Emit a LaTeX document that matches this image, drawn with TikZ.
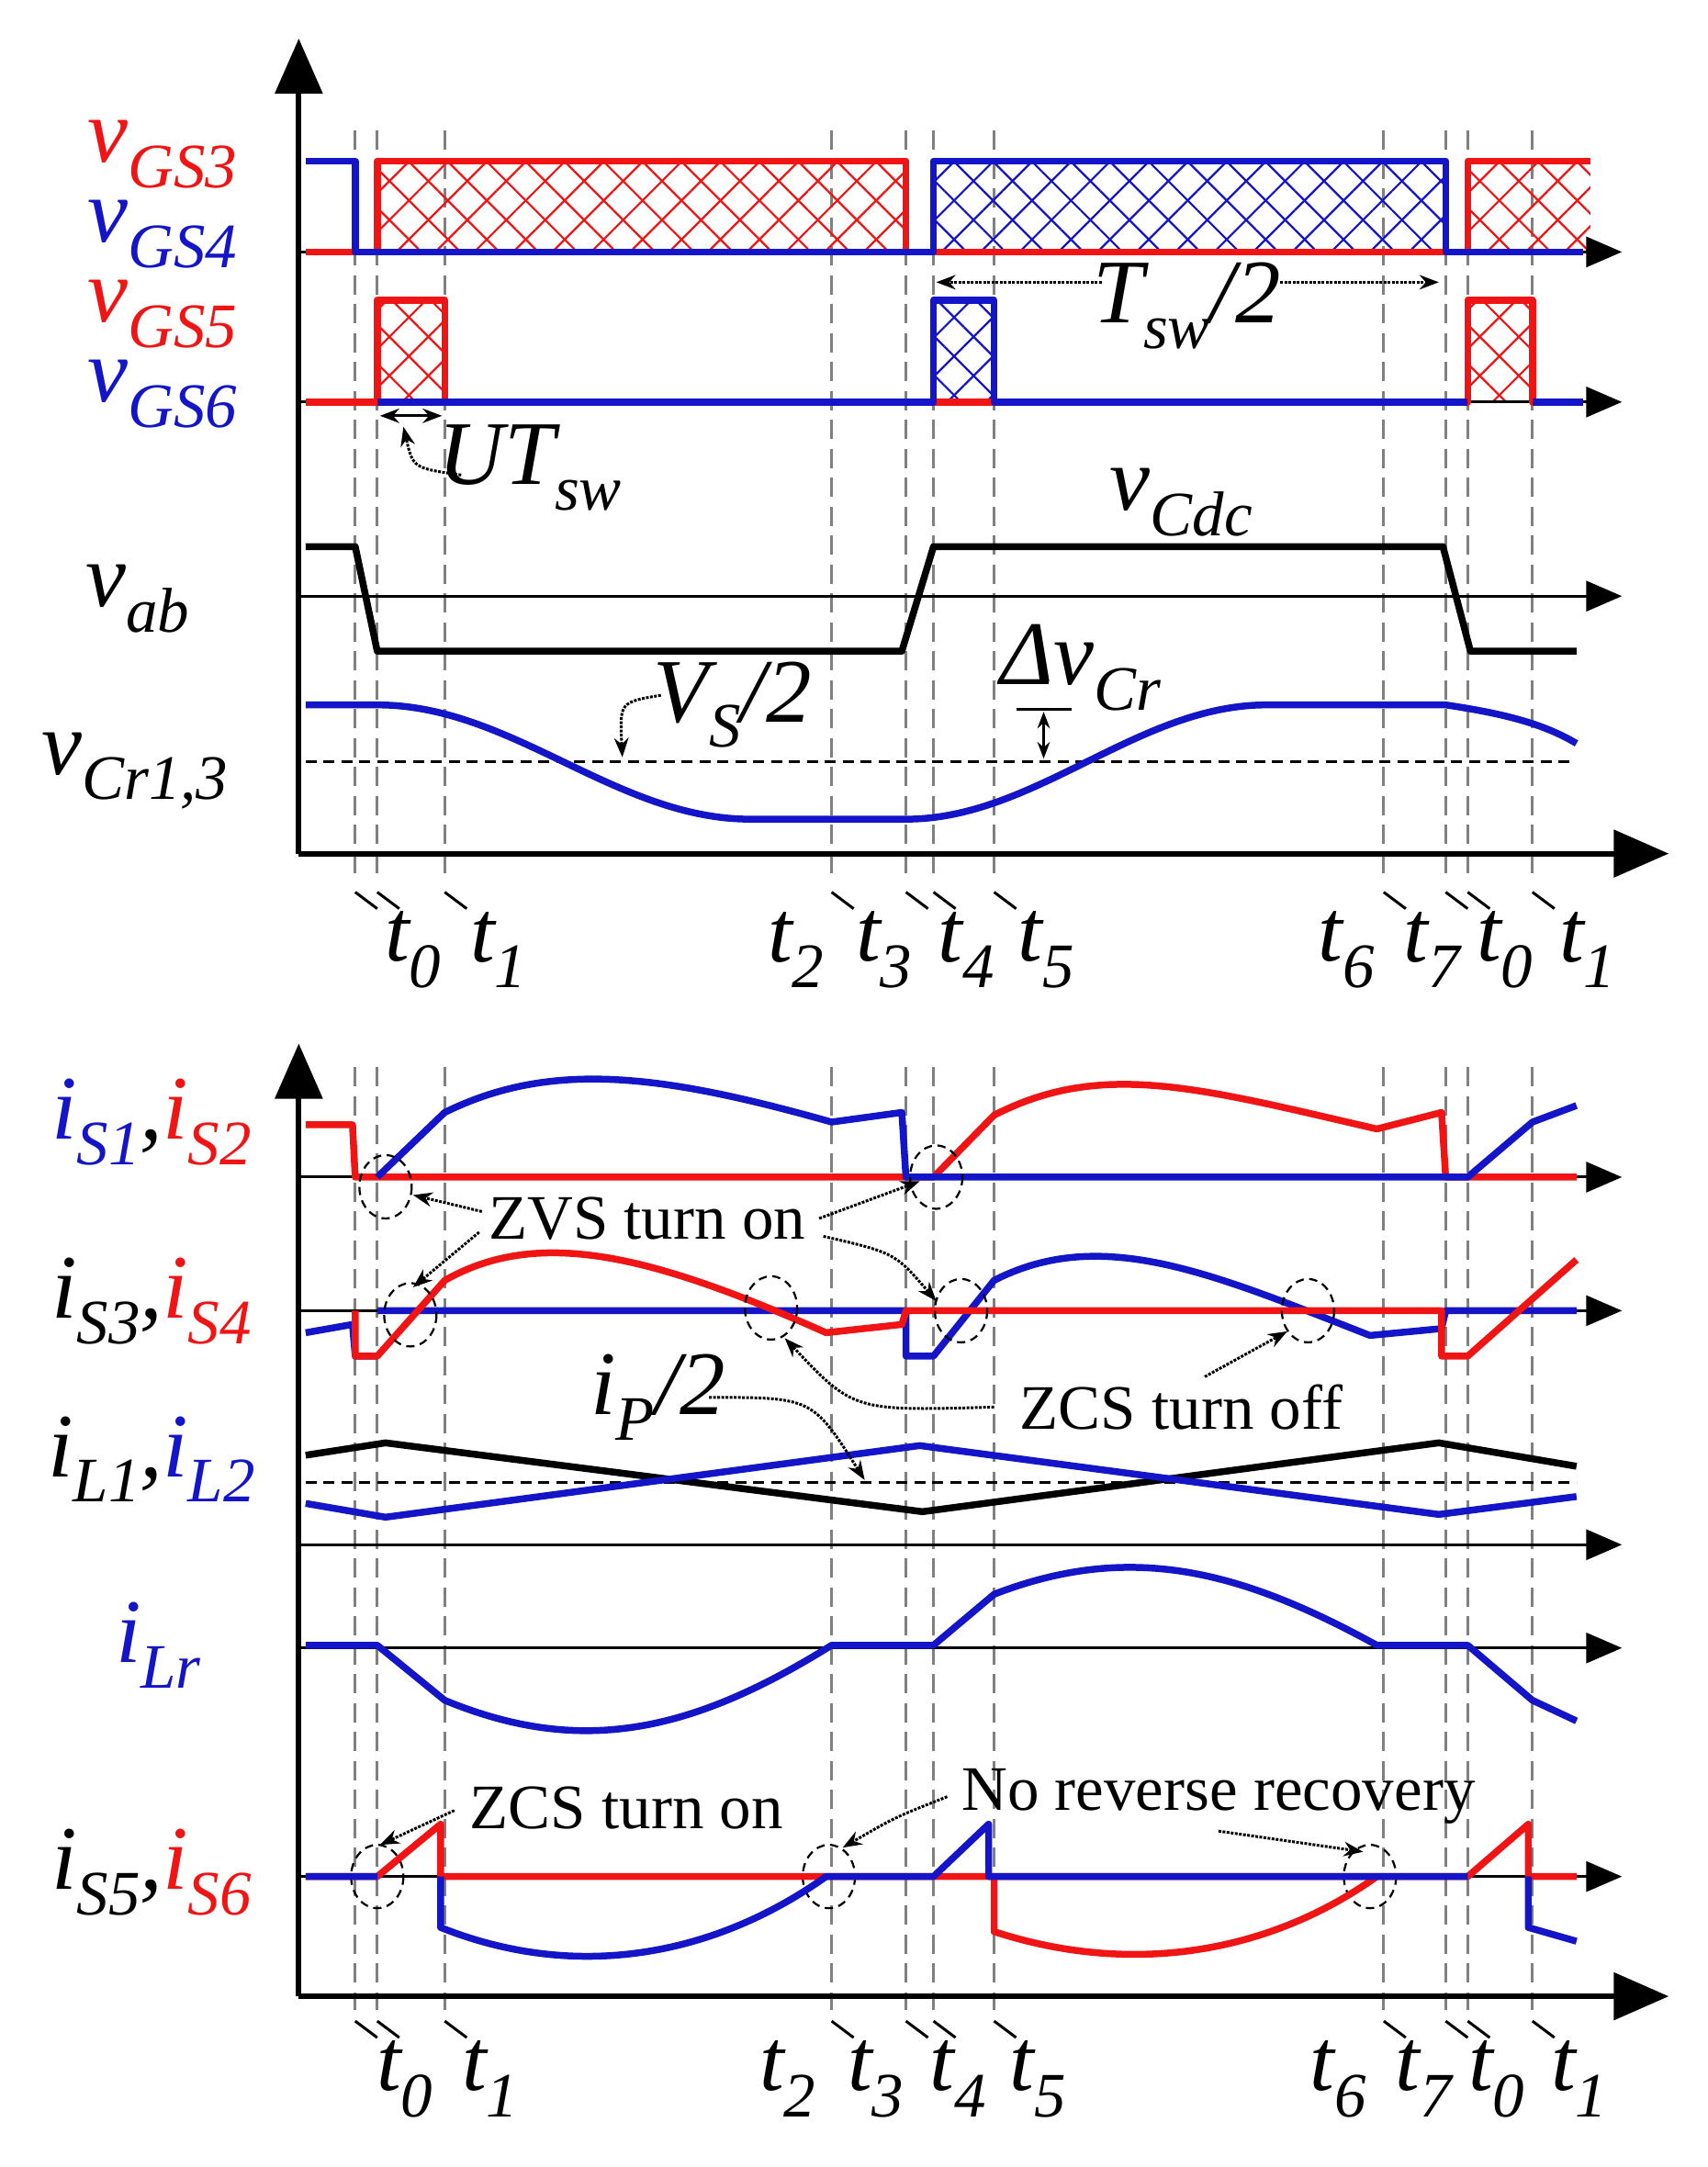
\documentclass[tikz,border=0pt]{standalone}
\usepackage{fontspec}
\setmainfont{Liberation Serif}
\usetikzlibrary{patterns.meta,arrows.meta}
\newcommand{\LB}[4][black]{{\color{#1}\fontsize{66}{68}\selectfont\itshape #2\raisebox{-0.28em}{\fontsize{46}{48}\selectfont #3}#4}}
\newcommand{\TL}[2]{{\fontsize{64}{68}\selectfont\itshape #1\raisebox{-0.3em}{\fontsize{46}{48}\selectfont #2}}}
\definecolor{rd}{RGB}{240,20,20}
\definecolor{bl}{RGB}{20,20,200}
\tikzset{ax/.style={line width=4pt,-{Triangle[length=40pt,width=34pt]}},
 base/.style={line width=2pt,-{Triangle[length=26pt,width=22pt]}},
 grid/.style={gray,line width=2pt,dash pattern=on 14pt off 7pt},
 sig/.style={line width=5pt,line join=round},
 dot/.style={densely dotted,line width=2pt,-{Stealth[length=14pt]}},
 circ/.style={line width=1.5pt,dash pattern=on 6pt off 4pt},
 hdash/.style={line width=2pt,dash pattern=on 8pt off 5pt},
 txt/.style={font=\fontsize{46}{50}\selectfont},
 tk/.style={line width=2pt},
 gl/.style={inner sep=0pt},
 hatchR/.style={pattern={Lines[angle=45,distance=20pt,line width=1.5pt]},pattern color=rd},
 hatchR2/.style={pattern={Lines[angle=-45,distance=20pt,line width=1.5pt]},pattern color=rd},
 hatchB/.style={pattern={Lines[angle=45,distance=20pt,line width=1.5pt]},pattern color=bl},
 hatchB2/.style={pattern={Lines[angle=-45,distance=20pt,line width=1.5pt]},pattern color=bl}}
\begin{document}
\begin{tikzpicture}[x=1pt,y=-1pt]
\useasboundingbox (0,0) rectangle (1240,1574);
% grid lines
\foreach \x in {258,274,323,604,658,678,722,1005,1050,1066,1113}{
 \draw[grid] (\x,95) -- (\x,640); \draw[tk] (\x,648) -- (\x+16,660);
 \draw[grid] (\x,775) -- (\x,1460); \draw[tk] (\x,1468) -- (\x+16,1480);}
\foreach \x/\s in {300/0,362/1,578/2,642/3,702/4,760/5,978/6,1040/7,1093/0,1153/1}{
 \node at (\x,690) {\TL{t}{\s}}; \node at (\x-6,1510) {\TL{t}{\s}};}
% axes
\coordinate (o1) at (217,620); \coordinate (o2) at (217,1450);
\draw[ax] (o1) -- (217,28); \draw[ax] (o1) -- (1212,620);
\draw[ax] (o2) -- (217,758); \draw[ax] (o2) -- (1212,1450);
% gate signals
\foreach \s in {hatchR,hatchR2}
 \fill[\s] (274,117) rectangle (658,183) (1066,117) rectangle (1155,183) (274,218) rectangle (323,292) (1066,218) rectangle (1113,292);
\foreach \s in {hatchB,hatchB2}
 \fill[\s] (678,117) rectangle (1050,183) (678,218) rectangle (722,292);
\draw[base] (217,183) -- (1178,183); \draw[base] (217,292) -- (1178,292);
\draw[sig,rd] (222,183) -- (274,183) -- (274,117) -- (658,117) -- (658,183) -- (1066,183) -- (1066,117) -- (1155,117);
\draw[sig,bl] (222,117) -- (258,117) -- (258,183) -- (678,183) -- (678,117) -- (1050,117) -- (1050,183) -- (1150,183);
\draw[sig,rd] (222,292) -- (274,292) -- (274,218) -- (323,218) -- (323,292) -- (1066,292) -- (1066,218) -- (1113,218) -- (1113,292) -- (1150,292);
\draw[sig,bl] (274,292) -- (678,292) -- (678,218) -- (722,218) -- (722,292) -- (1066,292) (1113,292) -- (1150,292);
\node[gl] (l1) at (118,112) {\LB[rd]{v}{GS3}{}}; \node[gl] (l2) at (118,170) {\LB[bl]{v}{GS4}{}};
\node[gl] (l3) at (118,228) {\LB[rd]{v}{GS5}{}}; \node[gl] (l4) at (118,286) {\LB[bl]{v}{GS6}{}};
\node (ts) at (862,222) {\LB{T}{sw}{/2}};
\draw[dot] (800,205) -- (680,205); \draw[dot] (930,205) -- (1045,205);
\draw[line width=2pt,{Stealth[length=14pt]}-{Stealth[length=14pt]}] (276,302) -- (321,302);
\node (ut) at (385,340) {\LB{UT}{sw}{}};
\draw[dot] (335,345) .. controls (300,340) .. (293,310);
% vab
\draw[base] (217,433) -- (1178,433);
\draw[sig,black] (222,397) -- (258,397) -- (274,473) -- (655,473) -- (678,397) -- (1048,397) -- (1068,473) -- (1145,473);
\node (vab) at (100,435) {\LB{v}{ab}{}}; \node (vc) at (858,365) {\LB{v}{Cdc}{}};
% vCr
\draw[hdash] (222,553) -- (1140,553);
\draw[sig,bl] (222,512) -- (274,512) .. controls (372,512) and (447,595) .. (545,595) -- (658,595) .. controls (752,595) and (826,512) .. (920,512) -- (1050,512) .. controls (1090,518) and (1120,525) .. (1145,540);
\node (vcr) at (98,560) {\LB{v}{Cr1,3}{}};
\draw[line width=2pt] (738,515) -- (778,515);
\draw[line width=2pt,{Stealth[length=12pt]}-{Stealth[length=12pt]}] (758,517) -- (758,551);
\node (dv) at (785,485) {\LB{Δv}{Cr}{}};
\node (vs) at (532,512) {\LB{V}{S}{/2}};
\draw[dot] (480,505) .. controls (450,510) .. (452,550);
% iS1 iS2
\draw[base] (217,855) -- (1178,855);
\draw[sig,rd] (222,817) -- (256,817) -- (258,855) -- (678,855) -- (722,810) .. controls (800,770) and (870,790) .. (1000,820) -- (1047,808) -- (1050,855) -- (1145,855);
\draw[sig,bl] (274,855) -- (323,808) .. controls (400,770) and (480,780) .. (604,815) -- (655,808) -- (658,855) -- (1066,855) -- (1113,815) -- (1145,803);
\node (i12) at (110,815) {\LB[bl]{i}{S1}{}\LB{,}{}{}\LB[rd]{i}{S2}{}};
% iS3 iS4
\draw[base] (217,952) -- (1178,952);
\draw[sig,bl] (222,968) -- (256,962) -- (258,985) -- (274,985) (274,952) -- (658,952) -- (658,985) -- (678,985) -- (722,930) .. controls (800,890) and (880,925) .. (995,970) -- (1047,965) -- (1050,952) -- (1145,952);
\draw[sig,rd] (258,952) -- (258,985) -- (274,985) -- (323,930) .. controls (390,892) and (470,910) .. (600,968) -- (655,962) -- (658,952) -- (1047,952) -- (1047,985) -- (1066,985) -- (1145,915);
\node (i34) at (110,945) {\LB{i}{S3}{}\LB{,}{}{}\LB[rd]{i}{S4}{}};
\foreach \c/\x/\y in {c1/280/862,c2/680/855,c3/298/955,c4/560/950,c5/698/952,c6/950/952,c7/274/1363,c8/602/1363,c9/995/1363}
 \draw[circ] (\x,\y) ellipse (19 and 23) node (\c) {};
\node[txt] (zvs) at (470,885) {ZVS turn on};
\draw[dot] (350,880) -- (300,868); \draw[dot] (348,895) -- (300,935);
\draw[dot] (595,885) -- (668,858); \draw[dot] (598,898) .. controls (650,910) .. (680,945);
\node[txt] (zcs) at (858,1022) {ZCS turn off};
\draw[dot] (722,1022) .. controls (620,1025) .. (570,972); \draw[dot] (875,1000) -- (935,967);
% iL
\draw[base] (217,1122) -- (1178,1122);
\draw[hdash] (222,1077) -- (1145,1077);
\draw[sig,black] (222,1057) -- (280,1048) -- (670,1098) -- (1045,1048) -- (1145,1065);
\draw[sig,bl] (222,1092) -- (280,1102) -- (668,1050) -- (1045,1100) -- (1145,1087);
\node (iL) at (110,1060) {\LB{i}{L1}{}\LB{,}{}{}\LB[bl]{i}{L2}{}};
\node (ip) at (478,1015) {\LB{i}{P}{/2}};
\draw[dot] (515,1015) .. controls (590,1015) .. (628,1075);
% iLr
\draw[base] (217,1197) -- (1178,1197);
\draw[sig,bl] (222,1195) -- (274,1195) -- (323,1235) .. controls (420,1275) and (500,1260) .. (604,1195) -- (678,1195) -- (722,1158) .. controls (820,1120) and (900,1140) .. (1000,1195) -- (1066,1195) -- (1113,1235) -- (1145,1250);
\node (iLr) at (115,1195) {\LB[bl]{i}{Lr}{}};
% iS5 iS6
\draw[base] (217,1363) -- (1178,1363);
\draw[sig,rd] (222,1363) -- (274,1363) -- (320,1325) -- (320,1363) -- (1066,1363) -- (1110,1325) -- (1110,1363) -- (1145,1363);
\draw[sig,rd] (722,1363) -- (722,1403) .. controls (820,1435) and (920,1420) .. (1000,1363);
\draw[sig,bl] (222,1363) -- (274,1363) (320,1363) -- (320,1400) .. controls (420,1440) and (520,1420) .. (600,1363) -- (678,1363) -- (718,1325) -- (718,1363) -- (1066,1363) (1110,1363) -- (1110,1400) -- (1145,1410);
\node (i56) at (110,1360) {\LB{i}{S5}{}\LB{,}{}{}\LB[rd]{i}{S6}{}};
\node[txt] (zon) at (455,1313) {ZCS turn on};
\draw[dot] (330,1315) -- (276,1340);
\node[txt] (nrr) at (885,1305) {No reverse recovery};
\draw[dot] (688,1305) .. controls (650,1320) .. (612,1342); \draw[dot] (885,1330) -- (990,1345);
\end{tikzpicture}
\end{document}
